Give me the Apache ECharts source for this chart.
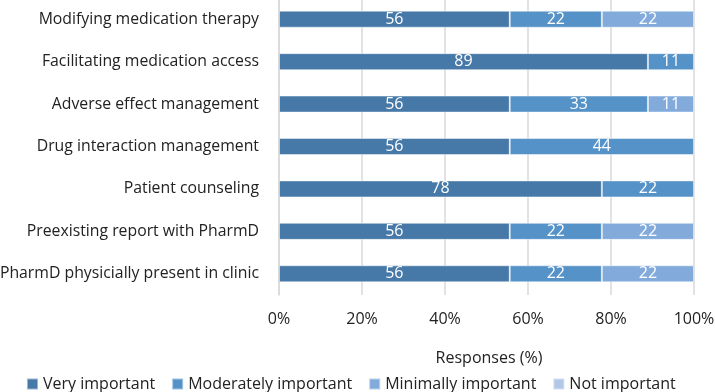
<!DOCTYPE html>
<html><head><meta charset="utf-8">
<script src="https://cdn.jsdelivr.net/npm/echarts@6/dist/echarts.min.js"></script>
<style>html,body{margin:0;padding:0;background:#fff}#c{width:715px;height:392px}</style>
</head><body><div id="c"></div>
<script>
const categories = ["Modifying medication therapy","Facilitating medication access","Adverse effect management","Drug interaction management","Patient counseling","Preexisting report with PharmD","PharmD physicially present in clinic"];
const veryImportant = [55.6, 88.9, 55.6, 55.6, 77.8, 55.6, 55.6];
const moderatelyImportant = [22.2, 11.1, 33.3, 44.4, 22.2, 22.2, 22.2];
const minimallyImportant = [22.2, null, 11.1, null, null, 22.2, 22.2];
const notImportant = [null, null, null, null, null, null, null];
const xTicks = [0, 20, 40, 60, 80, 100];
const seriesNames = ["Very important","Moderately important","Minimally important","Not important"];
const colors = ["#4779a8","#5592c8","#82abdc","#b3c8e7"];
const font = "'Open Sans', sans-serif";
const chart = echarts.init(document.getElementById('c'));
const mk = (name, data, i) => ({
  name, type: 'bar', stack: 'total', data, barWidth: 17,
  itemStyle: { color: colors[i], borderColor: 'rgba(255,255,255,0.45)', borderWidth: 1 },
  label: { show: true, position: 'inside', color: '#fff', fontSize: 16, fontFamily: font,
    formatter: p => (p.value ? Math.round(p.value) : '') }
});
chart.setOption({
  animation: false,
  graphic: [{ type: 'text', x: 489, y: 358,
    style: { text: 'Responses (%)', fontSize: 16, fill: '#222', fontFamily: font, align: 'center', verticalAlign: 'middle' } }],
  legend: { left: 26, top: 376, padding: 0, itemWidth: 11, itemHeight: 11, itemGap: 16, icon: 'rect',
    textStyle: { fontSize: 16, color: '#222', fontFamily: font }, data: seriesNames },
  grid: { left: 279, right: 21, top: -2, bottom: 97, containLabel: false, outerBoundsMode: 'none' },
  xAxis: { type: 'value', min: xTicks[0], max: xTicks[xTicks.length-1], interval: 20,
    axisLine: { show: false }, axisTick: { show: false },
    splitLine: { lineStyle: { color: '#d9d9d9', width: 1.5 } },
    axisLabel: { formatter: '{value}%', fontSize: 16, color: '#222', fontFamily: font, margin: 16 } },
  yAxis: { type: 'category', data: categories, inverse: true,
    axisLine: { show: true, lineStyle: { color: '#d9d9d9', width: 1.5 } }, axisTick: { show: false },
    axisLabel: { fontSize: 15.8, color: '#222', fontFamily: font, margin: 20 } },
  series: [mk(seriesNames[0], veryImportant, 0), mk(seriesNames[1], moderatelyImportant, 1),
           mk(seriesNames[2], minimallyImportant, 2), mk(seriesNames[3], notImportant, 3)]
});
</script></body></html>
